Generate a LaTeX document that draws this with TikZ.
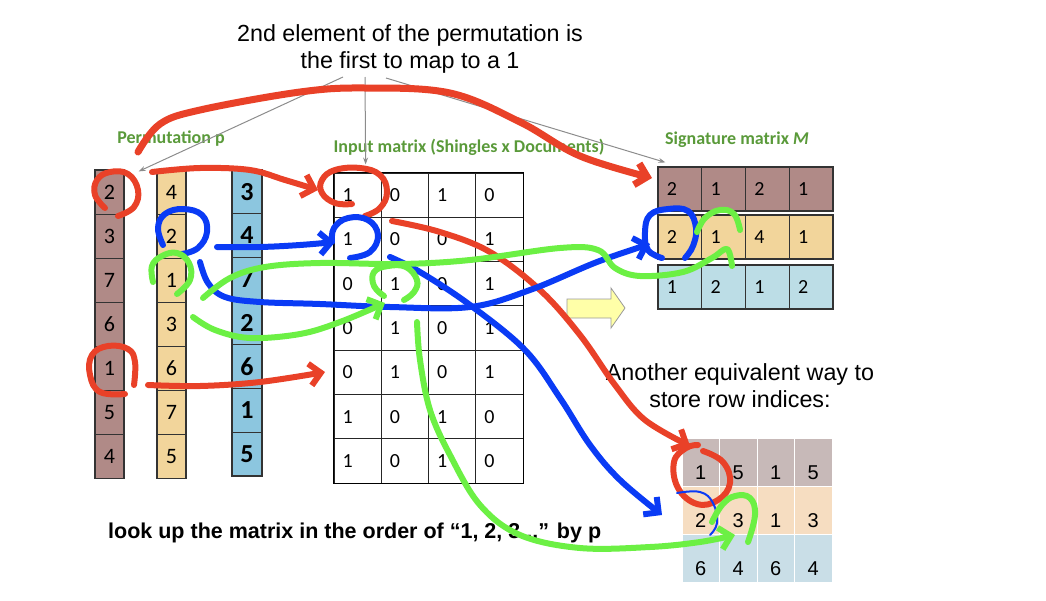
\documentclass[tikz,border=0pt]{standalone}
\usepackage{fontspec}
\setmainfont{Liberation Sans}
\newfontfamily\slidefont{Carlito}
\usetikzlibrary{arrows.meta}

\definecolor{permbrown}{HTML}{B08A87}
\definecolor{permtan}{HTML}{F2D59B}
\definecolor{permblue}{HTML}{8CC6DF}
\definecolor{siglightblue}{HTML}{BCDDE6}
\definecolor{rowmauve}{HTML}{C7B9B8}
\definecolor{rowpeach}{HTML}{F6DDC1}
\definecolor{rowsky}{HTML}{C9DEE7}
\definecolor{labelgreen}{HTML}{5A9A3A}
\definecolor{penred}{HTML}{E94128}
\definecolor{penblue}{HTML}{0A3BF5}
\definecolor{pengreen}{HTML}{6CF044}
\definecolor{arrowyellow}{HTML}{FFFFA8}

\tikzset{
  pcell/.style={draw=black!80, line width=1.2pt, minimum width=29pt, minimum height=44.1pt,
    inner sep=0pt, font=\slidefont\fontsize{22}{22}\selectfont},
  mcell/.style={draw=black!85, line width=1pt, fill=white, minimum width=47.25pt,
    minimum height=44.3pt, inner sep=0pt, text width=30pt, align=left,
    font=\slidefont\fontsize{20}{20}\selectfont},
  scell/.style={draw=black!80, line width=1.2pt, minimum width=43.75pt, minimum height=44pt,
    inner sep=0pt, text width=26pt, align=left, font=\slidefont\fontsize{20}{20}\selectfont},
  bcell/.style={draw=white, line width=1pt, minimum width=37.5pt, minimum height=48pt,
    inner sep=0pt, text height=34pt, text depth=0pt, font=\fontsize{20}{20}\selectfont},
  slidelabel/.style={text=labelgreen, inner sep=0pt, font=\slidefont\bfseries\fontsize{18}{18}\selectfont},
  caption/.style={align=center, inner sep=0pt, font=\fontsize{23.3}{27}\selectfont},
  pointer/.style={draw=black!45, line width=1pt, -{Stealth[length=7pt,width=5pt]}},
  pen/.style={line width=6pt, line cap=round, line join=round},
  penarrow/.style={pen, -{Straight Barb[length=11pt,width=22pt]}},
}

\begin{document}
\begin{tikzpicture}[x=1pt,y=-1pt]
  \useasboundingbox (0,0) rectangle (1046,600);

  % permutation p
  \foreach \v [count=\i] in {2,3,7,6,1,5,4}
    \node[pcell, fill=permbrown] (pa\i) at (109.5,{170+44.1*(\i-0.5)}) {\v};
  \foreach \v [count=\i] in {4,2,1,3,6,7,5}
    \node[pcell, fill=permtan] (pb\i) at (171.5,{170+44.1*(\i-0.5)}) {\v};
  \foreach \v [count=\i] in {3,4,7,2,6,1,5}
    \node[pcell, fill=permblue, minimum width=30pt, minimum height=43.7pt,
      font=\slidefont\bfseries\fontsize{26}{26}\selectfont] (pc\i) at (247,{170+43.7*(\i-0.5)}) {\v};

  % input matrix
  \foreach \row [count=\r] in {{1,0,1,0},{1,0,0,1},{0,1,0,1},{0,1,0,1},{0,1,0,1},{1,0,1,0},{1,0,1,0}}
    \foreach \v [count=\c] in \row
      \node[mcell] (m\r-\c) at ({334+47.25*(\c-0.5)},{173+44.3*(\r-0.5)}) {\v};
  \draw[line width=1.5pt] (m1-1.north west) rectangle (m7-4.south east);

  % signature matrix
  \foreach \v [count=\c] in {2,1,2,1}
    \node[scell, fill=permbrown] (sa\c) at ({658+43.75*(\c-0.5)},189) {\v};
  \foreach \v [count=\c] in {2,1,4,1}
    \node[scell, fill=permtan] (sb\c) at ({658+43.75*(\c-0.5)},237) {\v};
  \foreach \v [count=\c] in {1,2,1,2}
    \node[scell, fill=siglightblue] (sc\c) at ({658+43.75*(\c-0.5)},287) {\v};

  % row indices
  \foreach \v [count=\c] in {1,5,1,5}
    \node[bcell, fill=rowmauve] (ra\c) at ({682+37.5*(\c-0.5)},462) {\v};
  \foreach \v [count=\c] in {2,3,1,3}
    \node[bcell, fill=rowpeach] (rb\c) at ({682+37.5*(\c-0.5)},510.5) {\v};
  \foreach \v [count=\c] in {6,4,6,4}
    \node[bcell, fill=rowsky] (rc\c) at ({682+37.5*(\c-0.5)},558.5) {\v};

  % labels
  \node[slidelabel] (permlabel) at (171,139) {Permutation p};
  \node[slidelabel] (inlabel) at (469,147) {Input matrix (Shingles x Documents)};
  \node[slidelabel] (siglabel) at (737,140) {Signature matrix {\itshape M}};
  \node[caption] (cap) at (410,48.5) {2nd element of the permutation is\\the first to map to a 1};
  \node[caption] (other) at (740,385.5) {Another equivalent way to\\store row indices:};
  \node[anchor=base west, inner sep=0pt, font=\bfseries\fontsize{21.5}{21.5}\selectfont] (lookup)
    at (108,538) {look up the matrix in the order of “1, 2, 3...” by p};

  % yellow arrow
  \draw[fill=arrowyellow, draw=black!40, line width=0.8pt]
    (567,299) -- (611,299) -- (611,288) -- (625,308) -- (611,328) -- (611,318) -- (567,318) -- cycle;

  % pointers from the caption
  \coordinate (capl) at (343,77);
  \coordinate (capm) at (365,77);
  \coordinate (capr) at (386,78);
  \draw[pointer] (capl) -- ([xshift=14pt,yshift=-2pt]pa1.north east);
  \draw[pointer] (capm) -- ([xshift=8pt,yshift=8pt]m1-1.north);
  \draw[pointer] (capr) -- ([xshift=8pt,yshift=4pt]sa1.north west);

  % red pen
  \draw[penarrow, penred, line width=7pt] plot[smooth, tension=0.6] coordinates {
    (138,152) (160,124) (200,110) (300,92) (365,88) (450,93) (520,122) (580,156) (652,178)};
  \draw[pen, penred] plot[smooth, tension=0.7] coordinates {
    (105,208) (95,195) (97,180) (110,172) (128,174) (138,190) (134,207) (118,216)};
  \draw[penarrow, penred] plot[smooth, tension=0.6] coordinates {
    (152,172) (200,168) (250,170) (285,180) (318,190)};
  \draw[pen, penred] plot[smooth, tension=0.7] coordinates {
    (352,204) (335,203) (322,193) (322,180) (335,170) (360,168) (380,175) (387,192) (380,208) (365,216)};
  \draw[penarrow, penred] plot[smooth, tension=0.6] coordinates {
    (392,221) (440,232) (490,252) (540,290) (580,335) (615,385) (645,420) (690,446)};
  \draw[pen, penred] plot[smooth, tension=0.7] coordinates {
    (703,451) (723,462) (730,483) (718,500) (697,504) (678,488) (674,462) (686,448) (698,445)};
  \draw[pen, penred] plot[smooth, tension=0.7] coordinates {
    (125,394) (100,392) (90,375) (92,355) (108,346) (128,349) (135,362) (134,385)};
  \draw[penarrow, penred] plot[smooth, tension=0.6] coordinates {
    (148,385) (200,386) (260,382) (325,372)};

  % blue pen
  \draw[pen, penblue] plot[smooth, tension=0.7] coordinates {
    (163,245) (158,228) (165,214) (183,209) (202,215) (207,232) (198,248) (182,254)};
  \draw[penarrow, penblue] plot[smooth, tension=0.6] coordinates {
    (217,247) (260,247) (300,245) (335,242)};
  \draw[pen, penblue] plot[smooth, tension=0.7] coordinates {
    (350,258) (370,252) (378,235) (368,220) (348,218) (334,228) (332,242)};
  \draw[penarrow, penblue] plot[smooth, tension=0.6] coordinates {
    (200,262) (208,283) (225,297) (260,302) (320,304) (390,307) (470,307) (530,290) (597,262) (650,244)};
  \draw[pen, penblue] plot[smooth, tension=0.7] coordinates {
    (662,258) (648,250) (645,232) (650,215) (668,209) (688,211) (696,228) (693,246) (685,258)};
  \draw[penarrow, penblue] plot[smooth, tension=0.6] coordinates {
    (390,257) (420,272) (470,305) (525,350) (560,398) (590,445) (620,480) (662,515)};
  \draw[penblue, line width=2pt, line cap=round] plot[smooth, tension=0.7] coordinates {
    (677,493) (700,492) (713,503) (717,523) (710,535)};

  % green pen
  \draw[pen, pengreen] plot[smooth, tension=0.7] coordinates {
    (153,282) (152,266) (162,256) (177,253) (189,263) (190,280) (177,294)};
  \draw[pen, pengreen] plot[smooth, tension=0.6] coordinates {
    (203,298) (230,278) (265,267) (320,263) (400,264) (470,260) (560,248) (598,250) (615,268)
    (640,276) (683,272) (712,258) (727,249) (732,266)};
  \draw[pen, pengreen] plot[smooth, tension=0.7] coordinates {
    (697,232) (705,218) (720,210) (734,214) (740,230)};
  \draw[pen, pengreen] plot[smooth, tension=0.7] coordinates {
    (384,296) (374,286) (374,272) (388,266) (406,267) (417,280) (414,292) (404,300)};
  \draw[penarrow, pengreen] plot[smooth, tension=0.6] coordinates {
    (193,317) (215,330) (250,338) (300,334) (340,322) (385,303)};
  \draw[penarrow, pengreen] plot[smooth, tension=0.6] coordinates {
    (417,322) (420,360) (430,410) (450,455) (480,505) (520,535) (580,548) (650,547) (700,542) (735,535)};
  \draw[pen, pengreen] plot[smooth, tension=0.7] coordinates {
    (712,522) (722,505) (735,496) (750,498) (755,515) (748,542)};
\end{tikzpicture}
\end{document}
